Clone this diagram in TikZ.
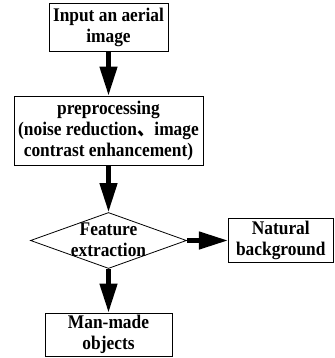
\documentclass[tikz,border=0pt]{standalone}
\usepackage{fontspec}
\setmainfont{Liberation Serif}[FakeStretch=0.9]
\newfontfamily\cjk{Noto Sans CJK SC}[FakeStretch=0.9]
\usetikzlibrary{arrows.meta,shapes.geometric}

\begin{document}
\begin{tikzpicture}[x=1pt, y=-1pt,
  box/.style={draw, line width=0.8pt, inner sep=0pt, align=center,
              font=\fontsize{19.3}{21}\selectfont\bfseries},
  decision/.style={draw, diamond, line width=0.8pt, minimum width=156pt,
              minimum height=56pt, inner sep=0pt},
  flow/.style={-{Triangle[length=29pt, width=17pt]}, line width=4.5pt}
]
  \useasboundingbox (0,0) rectangle (334,358);
  \node[box, minimum width=119pt, minimum height=48pt] (input) at (108.5,27) {Input an aerial\\image};
  \node[box, minimum width=189pt, minimum height=69pt] (prep) at (108.5,130.5)
    {preprocessing\\(noise reduction{\cjk 、}image\\contrast enhancement)};
  \node[decision, label={[align=center, font=\fontsize{19.3}{21}\selectfont\bfseries, yshift=1pt]center:Feature\\extraction}] (feat) at (108.5,240.5) {};
  \node[box, minimum width=105pt, minimum height=44pt] (nat) at (280.8,240.5) {Natural\\background};
  \node[box, minimum width=127pt, minimum height=43pt] (man) at (108.5,334.5) {Man-made\\objects};
  \draw[flow] (input) -- (prep);
  \draw[flow] (prep) -- (feat);
  \draw[flow] (feat) -- (nat);
  \draw[flow] (feat) -- (man);
\end{tikzpicture}
\end{document}
